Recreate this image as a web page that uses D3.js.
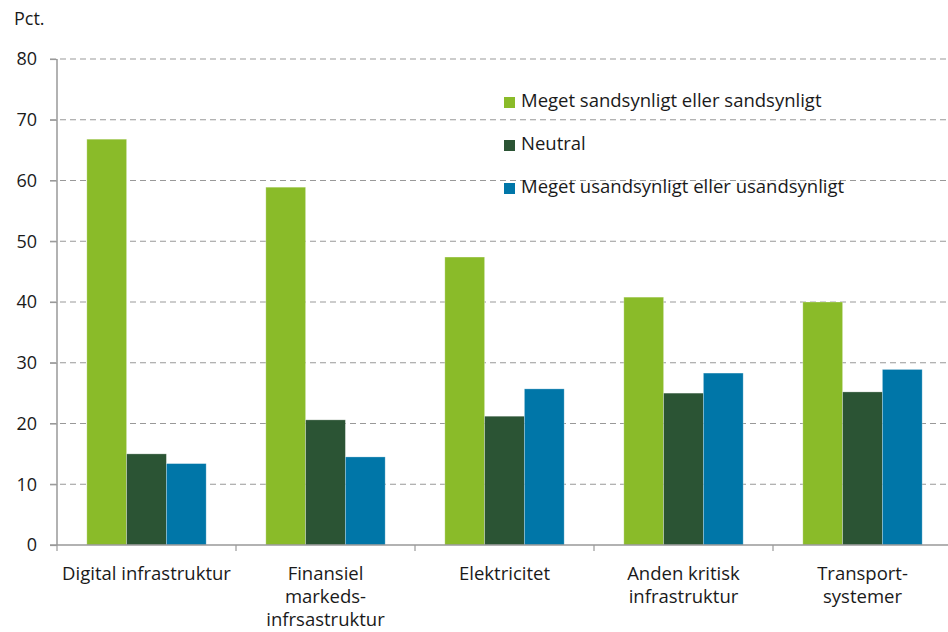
<!DOCTYPE html>
<html><head><meta charset="utf-8">
<script src="https://cdn.jsdelivr.net/npm/d3@7"></script>
<style>body{margin:0;background:#fff;} text{font-family:"Open Sans",sans-serif;}</style>
</head><body>
<svg id="c" width="948" height="632"></svg>
<script>
const categories = [["Digital infrastruktur"],["Finansiel","markeds-","infrsastruktur"],["Elektricitet"],["Anden kritisk","infrastruktur"],["Transport-","systemer"]];
const seriesNames = ["Meget sandsynligt eller sandsynligt","Neutral","Meget usandsynligt eller usandsynligt"];
const sandsynligt = [66.8, 58.9, 47.4, 40.8, 40.0];
const neutral = [15.0, 20.6, 21.2, 25.0, 25.2];
const usandsynligt = [13.4, 14.5, 25.7, 28.3, 28.9];
const yTicks = [0,10,20,30,40,50,60,70,80];
const colors = ["#8abb29","#2b5434","#0076a8"];

const series = [sandsynligt, neutral, usandsynligt];
const svg = d3.select("#c");
const mLeft = 57, mRight = 952, mTop = 59, mBottom = 545;
const FS = 18, FSL = 18.5;
const x = d3.scaleBand().domain(d3.range(categories.length)).range([mLeft, mRight]).padding(0);
const xi = d3.scaleBand().domain(d3.range(3)).range([0, x.bandwidth()]).paddingOuter(0.75).paddingInner(0);
const y = d3.scaleLinear().domain([0,80]).range([mBottom, mTop]);

// grid
svg.append("g").selectAll("line").data(yTicks.filter(d=>d>0)).join("line")
  .attr("x1", mLeft-7).attr("x2", 948).attr("y1", d=>y(d)).attr("y2", d=>y(d))
  .attr("stroke","#999").attr("stroke-width",1.2).attr("stroke-dasharray","6,4");

// bars
const g = svg.append("g");
series.forEach((s,si)=>{
  g.selectAll(null).data(s).join("rect")
   .attr("x",(d,i)=>x(i)+xi(si)).attr("width",xi.bandwidth())
   .attr("y",d=>y(d)).attr("height",d=>y(0)-y(d))
   .attr("fill",colors[si]).attr("stroke","rgba(255,255,255,0.35)").attr("stroke-width",0.8);
});

// y axis
const ya = svg.append("g").attr("transform",`translate(${mLeft},0)`).call(d3.axisLeft(y).tickValues(yTicks).tickSize(7).tickPadding(13));
ya.select(".domain").attr("stroke","#999").attr("stroke-width",1.5).attr("d",`M0,${mTop}V${mBottom}`);
ya.selectAll(".tick line").attr("stroke","#999").attr("stroke-width",1.2);
ya.selectAll(".tick text").attr("font-size",FS).attr("fill","#1a1a1a").attr("font-family","Open Sans");

// x axis
svg.append("line").attr("x1",mLeft-7).attr("x2",948).attr("y1",mBottom).attr("y2",mBottom).attr("stroke","#999").attr("stroke-width",1.5);
svg.append("g").selectAll("line").data(d3.range(categories.length+1)).join("line")
  .attr("x1",i=>mLeft+i*x.bandwidth()).attr("x2",i=>mLeft+i*x.bandwidth())
  .attr("y1",mBottom).attr("y2",mBottom+6).attr("stroke","#999").attr("stroke-width",1.2);

const lab = svg.append("g").selectAll("text").data(categories).join("text")
  .attr("x",(d,i)=>x(i)+x.bandwidth()/2).attr("y",580).attr("text-anchor","middle")
  .attr("font-size",FSL).attr("fill","#1a1a1a");
lab.each(function(d){
  const xx = d3.select(this).attr("x");
  d3.select(this).selectAll("tspan").data(d).join("tspan")
    .attr("x",xx).attr("dy",(t,j)=>j===0?0:23).text(t=>t);
});

svg.append("text").attr("x",14).attr("y",25).attr("font-size",FS).attr("fill","#1a1a1a").text("Pct.");

// legend
const lg = svg.append("g").selectAll("g").data(seriesNames).join("g")
  .attr("transform",(d,i)=>`translate(504,${107+i*43})`);
lg.append("rect").attr("x",0).attr("y",-10).attr("width",11).attr("height",11).attr("fill",(d,i)=>colors[i]);
lg.append("text").attr("x",17).attr("y",0).attr("font-size",FSL).attr("fill","#1a1a1a").text(d=>d);
</script>
</body></html>
